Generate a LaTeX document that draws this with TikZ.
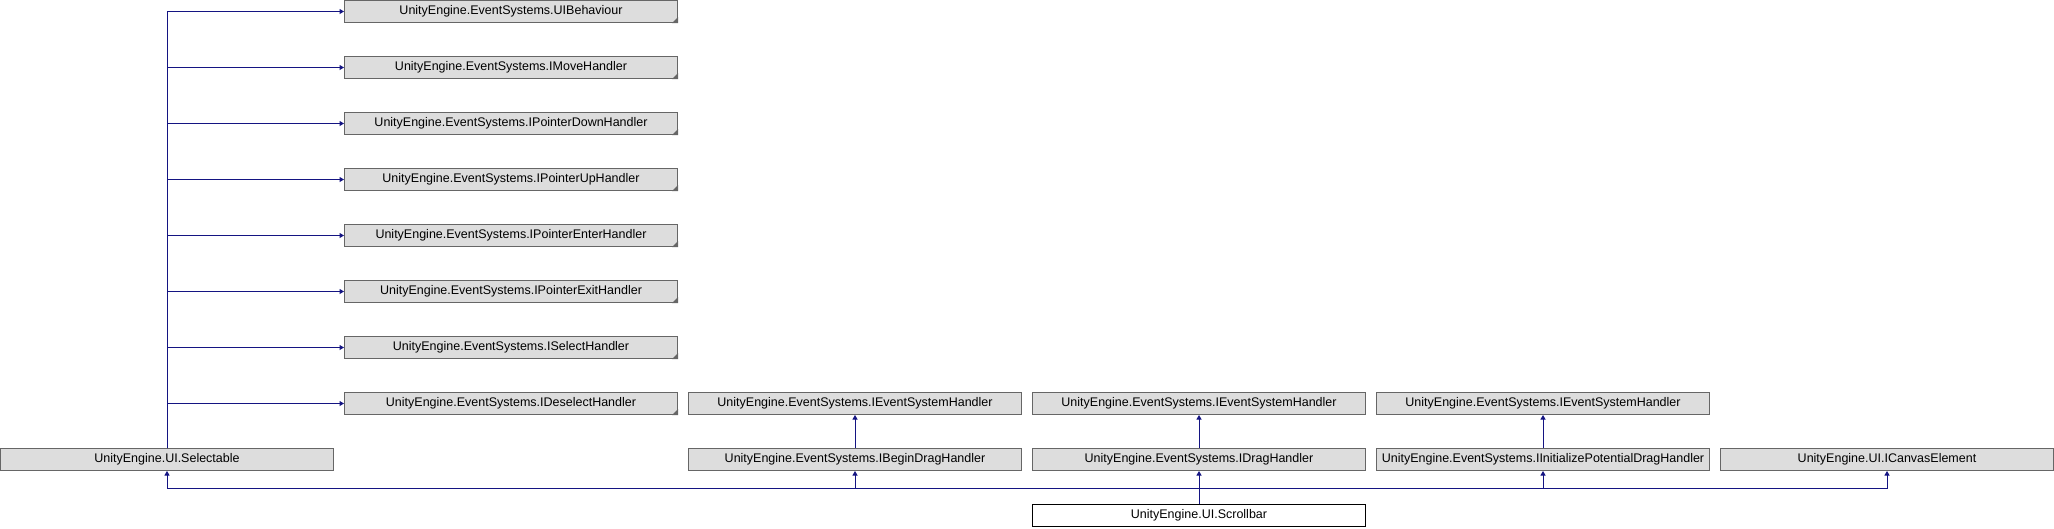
\documentclass[tikz,border=0pt]{standalone}
\usepackage{fontspec}
\setmainfont{Liberation Sans}
\usetikzlibrary{arrows.meta}
\definecolor{edgecol}{RGB}{20,20,130}
\definecolor{boxfill}{RGB}{221,221,221}
\definecolor{boxline}{RGB}{102,102,102}
\tikzset{
  cls/.style={draw=boxline, fill=boxfill, line width=1pt, rectangle, minimum width=333pt, minimum height=22pt, inner sep=0pt, font=\fontsize{12.5}{14}\selectfont},
  mainbox/.style={cls, draw=black, fill=white},
  edge/.style={draw=edgecol, line width=1pt, -{Triangle[length=4.5pt,width=5pt]}},
}
\begin{document}
\begin{tikzpicture}[x=1pt,y=-1pt]
\useasboundingbox (0,0) rectangle (2054,528);
% left column interfaces
\node[cls] (b0) at (511,11.5) {UnityEngine.EventSystems.UIBehaviour};
\node[cls] (b1) at (511,67.5) {UnityEngine.EventSystems.IMoveHandler};
\node[cls] (b2) at (511,123.5) {UnityEngine.EventSystems.IPointerDownHandler};
\node[cls] (b3) at (511,179.5) {UnityEngine.EventSystems.IPointerUpHandler};
\node[cls] (b4) at (511,235.5) {UnityEngine.EventSystems.IPointerEnterHandler};
\node[cls] (b5) at (511,291.5) {UnityEngine.EventSystems.IPointerExitHandler};
\node[cls] (b6) at (511,347.5) {UnityEngine.EventSystems.ISelectHandler};
\node[cls] (b7) at (511,403.5) {UnityEngine.EventSystems.IDeselectHandler};
% folded corners
\foreach \n in {b0,b1,b2,b3,b4,b5,b6,b7}{
  \fill[boxline] (\n.south east) -- ++(-6,0) -- ++(6,-6) -- cycle;
}
% event system handlers
\node[cls] (e1) at (855,403.5) {UnityEngine.EventSystems.IEventSystemHandler};
\node[cls] (e2) at (1199,403.5) {UnityEngine.EventSystems.IEventSystemHandler};
\node[cls] (e3) at (1543,403.5) {UnityEngine.EventSystems.IEventSystemHandler};
% row 8
\node[cls] (sel) at (167,459.5) {UnityEngine.UI.Selectable};
\node[cls] (bd) at (855,459.5) {UnityEngine.EventSystems.IBeginDragHandler};
\node[cls] (dr) at (1199,459.5) {UnityEngine.EventSystems.IDragHandler};
\node[cls] (ip) at (1543,459.5) {UnityEngine.EventSystems.IInitializePotentialDragHandler};
\node[cls] (ce) at (1887,459.5) {UnityEngine.UI.ICanvasElement};
% main class
\node[mainbox] (sb) at (1199,515.5) {UnityEngine.UI.Scrollbar};
% Selectable -> interfaces
\foreach \n in {b0,b1,b2,b3,b4,b5,b6,b7}{
  \draw[edge] (sel.north) |- (\n.west);
}
% handlers -> IEventSystemHandler
\draw[edge] (bd.north) -- (e1.south);
\draw[edge] (dr.north) -- (e2.south);
\draw[edge] (ip.north) -- (e3.south);
% Scrollbar -> bases
\coordinate (j) at (1199,488.7);
\draw[edge] (sb.north) -- (dr.south);
\draw[edge] (sb.north) -- (j) -| (sel.south);
\draw[edge] (sb.north) -- (j) -| (bd.south);
\draw[edge] (sb.north) -- (j) -| (ip.south);
\draw[edge] (sb.north) -- (j) -| (ce.south);
\end{tikzpicture}
\end{document}
